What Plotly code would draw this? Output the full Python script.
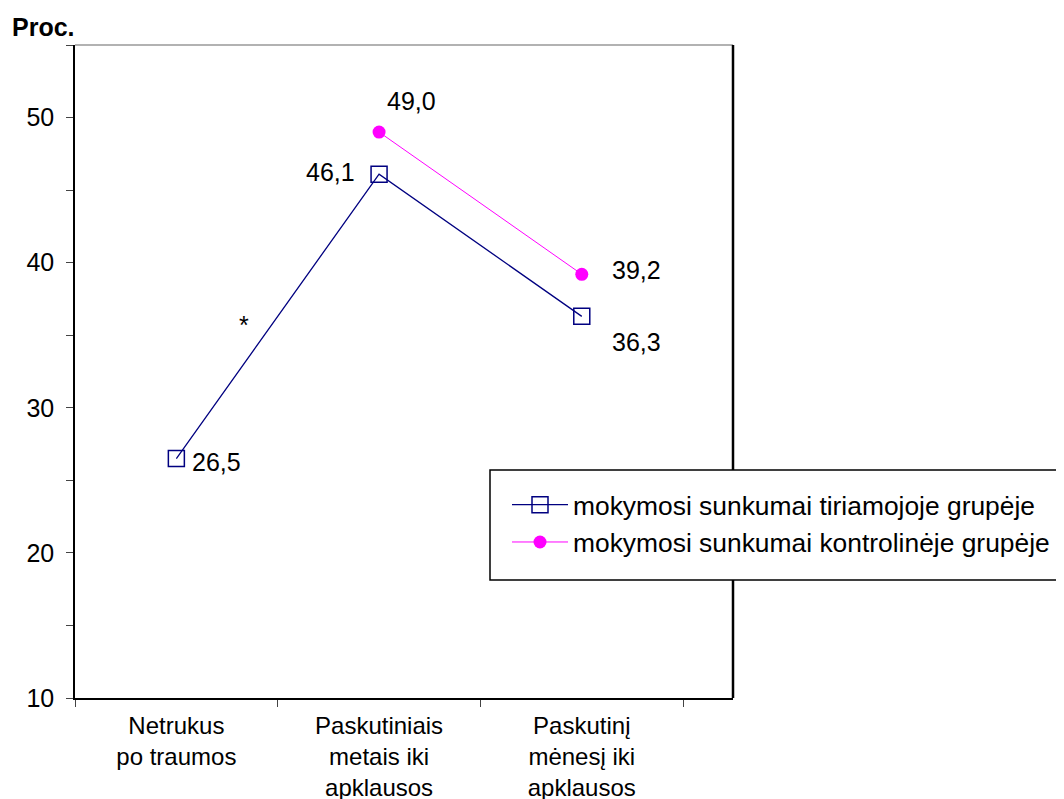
import plotly.graph_objects as go

# ---- data ----
categories = ["Netrukus<br>po traumos", "Paskutiniais<br>metais iki<br>apklausos", "Paskutinį<br>mėnesį iki<br>apklausos"]
x_pos = [0, 1, 2]
tiriamoji = [26.5, 46.1, 36.3]
kontroline_x = [1, 2]
kontroline = [49.0, 39.2]
name_tir = "mokymosi sunkumai tiriamojoje grupėje"
name_kon = "mokymosi sunkumai kontrolinėje grupėje"
star_x, star_y = 0.335, 35.7
y_ticks = [10, 20, 30, 40, 50]

FONT = "Liberation Sans, Arial, sans-serif"
NAVY = "#000080"
MAG = "#FF00FF"

# plot area in screen pixels: x 75..733, y 45..698 (page body has an 8px margin)
PW, PH = 658, 653

def px(x):
    return (x - 75) / PW

def py(y):
    return (698 - y) / PH

fig = go.Figure()
fig.add_trace(go.Scatter(
    x=x_pos, y=tiriamoji, mode="lines+markers", name=name_tir,
    line=dict(color=NAVY, width=1.3),
    marker=dict(symbol="square-open", size=16, color=NAVY, line=dict(width=1.5, color=NAVY)),
))
fig.add_trace(go.Scatter(
    x=kontroline_x, y=kontroline, mode="lines+markers", name=name_kon,
    line=dict(color=MAG, width=1),
    marker=dict(symbol="circle", size=13, color=MAG),
))

def fmt(v):
    return f"{v:.1f}".replace(".", ",")

# label offsets (style)
tir_off = [(14, -3, "left"), (-22, 2, "right"), (28, -26, "left")]
kon_off = [(6, 31, "left"), (28, 4, "left")]
for xv, yv, (dx, dy, anc) in zip(x_pos, tiriamoji, tir_off):
    fig.add_annotation(x=xv, y=yv, xref="x", yref="y", text=fmt(yv), showarrow=False,
                       xanchor=anc, yanchor="middle", xshift=dx, yshift=dy,
                       font=dict(size=25, color="black", family=FONT))
for xv, yv, (dx, dy, anc) in zip(kontroline_x, kontroline, kon_off):
    fig.add_annotation(x=xv, y=yv, xref="x", yref="y", text=fmt(yv), showarrow=False,
                       xanchor=anc, yanchor="middle", xshift=dx, yshift=dy,
                       font=dict(size=25, color="black", family=FONT))

fig.add_annotation(x=star_x, y=star_y, xref="x", yref="y", text="*", showarrow=False,
                   font=dict(size=25, color="black", family=FONT))
fig.add_annotation(x=px(10), y=py(27), xref="paper", yref="paper", text="<b>Proc.</b>",
                   showarrow=False, xanchor="left", yanchor="middle",
                   font=dict(size=25, color="black", family=FONT))

fig.update_layout(
    width=1064, height=799,
    margin=dict(l=67, r=1064 - 67 - PW, t=37, b=799 - 37 - PH, autoexpand=False),
    paper_bgcolor="white", plot_bgcolor="white",
    font=dict(family=FONT, size=25, color="black"),
    showlegend=True,
    legend=dict(x=px(507), y=py(481), xanchor="left", yanchor="top",
                borderwidth=0, bgcolor="rgba(0,0,0,0)",
                font=dict(size=26.4, family=FONT, color="black"), itemwidth=56,
                tracegroupgap=0),
    xaxis=dict(range=[-0.5, 2.746], tickmode="array", tickvals=x_pos, ticktext=categories,
               ticks="", showgrid=False, zeroline=False, automargin=False,
               showline=True, linecolor="black", linewidth=1.5,
               tickfont=dict(size=24, family=FONT, color="black"),
               ticklabelstandoff=5,
               minor=dict(tickmode="array", tickvals=[-0.5, 0.5, 1.5, 2.5], ticks="outside",
                          ticklen=7, tickcolor="#444", tickwidth=1, showgrid=False)),
    yaxis=dict(range=[10, 55], tickmode="array", tickvals=y_ticks,
               ticks="outside", ticklen=7, tickcolor="#444", tickwidth=1,
               showgrid=False, zeroline=False, automargin=False,
               showline=True, linecolor="black", linewidth=1.5,
               tickfont=dict(size=25, family=FONT, color="black"),
               ticklabelstandoff=7,
               minor=dict(tick0=10, dtick=5, ticks="outside", ticklen=7, tickcolor="#444",
                          tickwidth=1, showgrid=False)),
)

# plot box top (gray) and right (black) borders
fig.add_shape(type="line", xref="paper", yref="paper", x0=0, x1=1, y0=1, y1=1,
              line=dict(color="#999999", width=1.5))
fig.add_shape(type="line", xref="paper", yref="paper", x0=1, x1=1, y0=0, y1=1,
              line=dict(color="black", width=2.5))
# legend frame
fig.add_shape(type="rect", xref="paper", yref="paper", x0=px(490), x1=px(1080),
              y0=py(580), y1=py(470), fillcolor="white",
              line=dict(color="black", width=1.5), layer="above")

fig.write_html("out.html")
